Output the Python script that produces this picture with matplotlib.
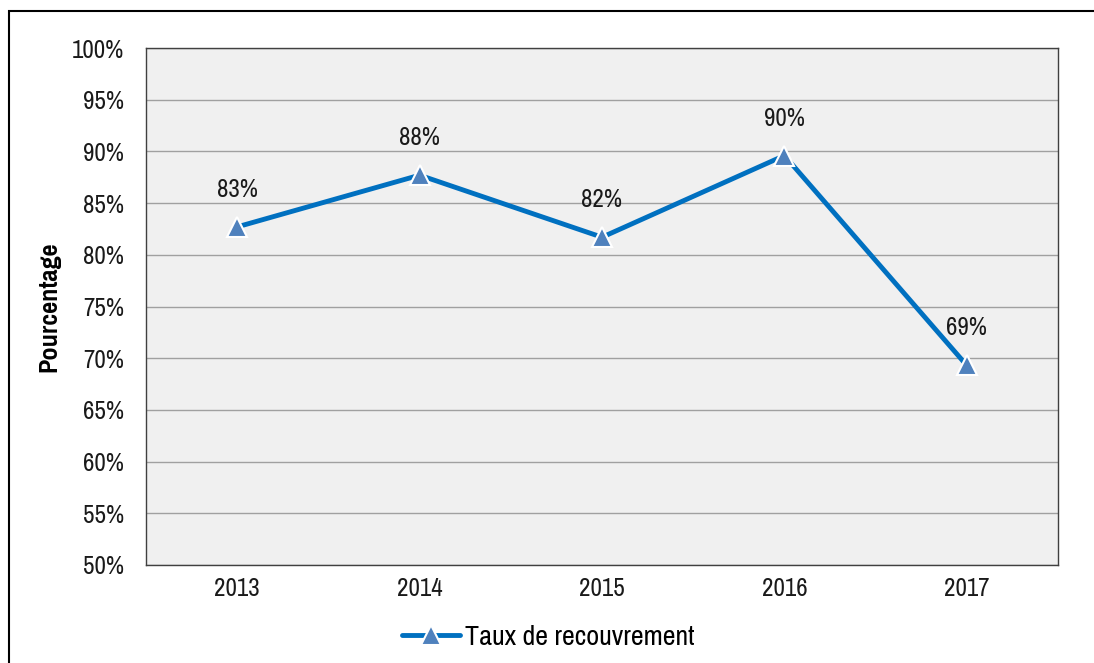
import matplotlib
matplotlib.use("Agg")
import matplotlib.pyplot as plt
from matplotlib.patches import Rectangle
from matplotlib.ticker import FuncFormatter

years = ["2013", "2014", "2015", "2016", "2017"]
values = [82.7, 87.7, 81.7, 89.6, 69.3]
labels = ["83%", "88%", "82%", "90%", "69%"]
series_name = "Taux de recouvrement"

plt.rcParams['font.family'] = ['Pragati Narrow', 'PT Sans Narrow', 'Liberation Sans', 'DejaVu Sans']

fig = plt.figure(figsize=(10.94, 6.63), dpi=100)
fig.patches.append(Rectangle((9/1094, -0.05), 1.2, 0.05 + 1 - 11/663, transform=fig.transFigure,
                             fill=False, edgecolor='black', linewidth=1.5))
ax = fig.add_axes([146/1094, 1 - 565/663, (1058 - 146)/1094, (565 - 48)/663])
ax.set_facecolor('#F0F0F0')

x = list(range(len(years)))
ax.plot(x, values, color='#0070C0', linewidth=3.5, marker='^', markersize=14,
        markerfacecolor='#4F81BD', markeredgecolor='white', markeredgewidth=1.5,
        label=series_name, zorder=3, solid_capstyle='round')

for xi, v, lab in zip(x, values, labels):
    ax.annotate(lab, (xi, v), xytext=(0, 27), textcoords='offset points',
                ha='center', va='center', fontsize=19.5, color='#1a1a1a')

ax.set_xlim(-0.5, len(years) - 0.5)
ax.set_ylim(50, 100)
ax.set_yticks(range(50, 101, 5))
ax.yaxis.set_major_formatter(FuncFormatter(lambda v, p: f"{int(v)}%"))
ax.set_xticks(x)
ax.set_xticklabels(years)
ax.tick_params(axis='both', length=0, labelsize=19.5, colors='#1a1a1a')
ax.tick_params(axis='y', pad=16)
ax.tick_params(axis='x', pad=9)
ax.grid(axis='y', color='#A0A0A0', linewidth=1)
ax.set_axisbelow(True)
for s in ax.spines.values():
    s.set_color('#404040')
    s.set_linewidth(1)

ax.set_ylabel("Pourcentage", fontsize=20.5, fontweight='bold', labelpad=8)

leg = fig.legend(loc='center', bbox_to_anchor=(548/1094, 1 - 637/663), frameon=False,
                 fontsize=22, handlelength=1.9, handletextpad=0.15)

fig.savefig("out.png", dpi=100)
